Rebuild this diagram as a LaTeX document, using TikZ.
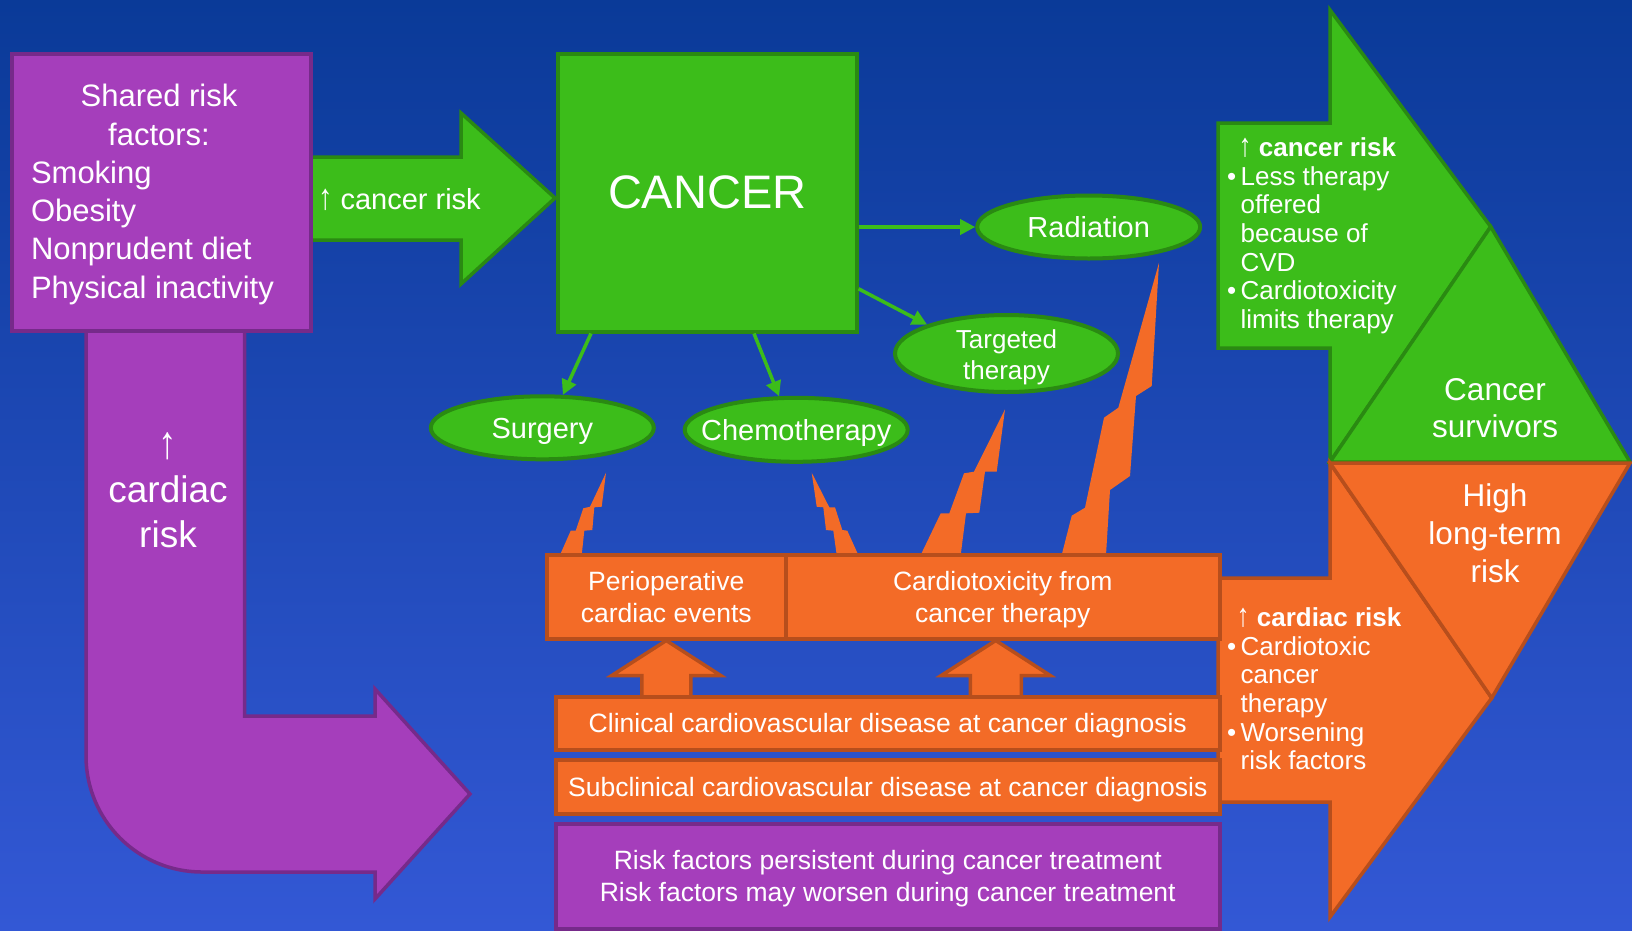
\documentclass[tikz,border=0pt]{standalone}
\usepackage{fontspec}
\usepackage{graphicx}
\setmainfont{Liberation Sans}
\usetikzlibrary{arrows.meta,shapes.geometric,calc}
\definecolor{bgtop}{RGB}{10,58,152}
\definecolor{bgmid}{RGB}{28,77,194}
\definecolor{bgbot}{RGB}{51,88,213}
\definecolor{purp}{RGB}{165,62,187}
\definecolor{purpd}{RGB}{118,42,138}
\definecolor{grn}{RGB}{60,189,26}
\definecolor{grnd}{RGB}{42,138,18}
\definecolor{org}{RGB}{243,107,39}
\definecolor{orgd}{RGB}{183,78,28}
\newcommand\myup{\scalebox{1}[1.25]{↑}}
\begin{document}
\begin{tikzpicture}[x=1pt,y=-1pt,
  purpshape/.style={fill=purp,draw=purpd,line width=3.5pt,line join=miter},
  grnshape/.style={fill=grn,draw=grnd,line width=3.5pt,line join=miter},
  orgshape/.style={fill=org,draw=orgd,line width=3.5pt,line join=miter},
  boltshape/.style={fill=org},
  txt/.style={text=white,inner sep=0pt,outer sep=0pt},
  oval/.style={ellipse,fill=grn,draw=grnd,line width=4pt,inner sep=0pt,text=white,
    minimum width=223pt,minimum height=63pt,font=\fontsize{29}{34}\selectfont,
    text height=21pt,text depth=0pt},
  gline/.style={draw=grn,line width=3.5pt,-{Triangle[length=15pt,width=15pt]}},
  fA/.style={font=\fontsize{31}{38.3}\selectfont},
  fB/.style={font=\fontsize{26}{28.6}\selectfont},
  fC/.style={font=\fontsize{26.5}{32.4}\selectfont},
  fD/.style={font=\fontsize{31.5}{37.8}\selectfont},
  obox/.style={orgshape,inner sep=0pt,anchor=north west,text=white,font=\fontsize{26.5}{32.4}\selectfont,text height=19pt}
]
\useasboundingbox (0,0) rectangle (1632,930);
\shade[top color=bgtop,middle color=bgmid,bottom color=bgbot] (0,0) rectangle (1632,930);

% purple L arrow
\draw[purpshape] (86,320) -- (86,756) .. controls (86,820) and (138,872) .. (202,872)
  -- (375,872) -- (375,899) -- (470,794) -- (375,689) -- (375,716) -- (244.6,716)
  -- (244.6,320) -- cycle;
\node[txt,font=\fontsize{37}{44.6}\selectfont,anchor=base] (cardiacrisk) at (168,458.2)
  {\begin{tabular}[t]{@{}c@{}}\myup\\cardiac\\risk\end{tabular}};

% green arrow: cancer risk
\draw[grnshape] (300,157) -- (461,157) -- (461,113) -- (555,198) -- (461,284) -- (461,240) -- (300,240) -- cycle;
\node[txt,font=\fontsize{29}{35}\selectfont,anchor=base west] (cancerrisk) at (318,209) {\myup\ cancer risk};

% shared risk factors box
\node[purpshape,minimum width=298.6pt,minimum height=277pt,inner sep=0pt,anchor=north west] (shared) at (10.4,52) {};
\node[txt,fA,anchor=base] (sharedT) at (159,106.7) {\begin{tabular}[t]{@{}c@{}}Shared risk\\factors:\end{tabular}};
\node[txt,fA,anchor=base west] (sharedL) at (31,183.3)
  {\begin{tabular}[t]{@{}l@{}}Smoking\\Obesity\\Nonprudent diet\\Physical inactivity\end{tabular}};

% cancer box
\node[grnshape,minimum width=299pt,minimum height=278pt,inner sep=0pt,anchor=north west,
  text=white,font=\fontsize{47}{56}\selectfont] (cancer) at (556,52) {CANCER};

% treatment ovals
\node[oval] (radiation) at (1088.7,227) {Radiation};
\node[oval,minimum height=77pt,font=\fontsize{26}{31.6}\selectfont,text depth=31.6pt] (targeted) at (1006.5,353.5)
  {\begin{tabular}[t]{@{}c@{}}Targeted\\therapy\end{tabular}};
\node[oval] (surgery) at (542.3,427.8) {Surgery};
\node[oval,minimum height=64pt] (chemo) at (796.2,429.8) {};
\node[txt,font=\fontsize{29}{34}\selectfont,text height=21pt,text depth=0pt] (chemoT) at (chemo.center) {Chemotherapy};

\draw[gline] (cancer.east |- radiation.west) -- (radiation.west);
\draw[gline] ($(cancer.east)+(0,96)$) -- (targeted.160);
\draw[gline] ($(cancer.south west)+(35,0)$) -- (surgery.58);
\draw[gline] ($(cancer.south west)+(198,0)$) -- (chemo.117);

% lightning bolts
\fill[boltshape] (560,555) -- (570.7,530.7) -- (575.7,530.7) -- (583.3,508.3) -- (590,506.7) -- (606,472.7)
  -- (601.7,506.7) -- (594.3,507.3) -- (592.3,530) -- (584.3,530.7) -- (581.7,555) -- cycle;
\fill[boltshape] (811.7,472.7) -- (829.3,507.3) -- (835,507.3) -- (842.3,530) -- (847.3,530.7) -- (858.3,555)
  -- (836.7,555) -- (833.3,530.7) -- (826,530) -- (823.3,507.3) -- (816.7,506.7) -- cycle;
\fill[boltshape] (1005,409.3) -- (996.7,471.7) -- (985,471.7) -- (979.3,512.7) -- (966,513.3) -- (960.7,555)
  -- (920.7,555) -- (940.7,513.3) -- (949.3,513.3) -- (964,473.3) -- (974,471.7) -- cycle;
\fill[boltshape] (1159,262.7) -- (1151.7,386) -- (1136,396) -- (1130,476) -- (1110,490) -- (1106,555)
  -- (1061.7,555) -- (1071.7,515.7) -- (1085,507.7) -- (1104,417.7) -- (1118.3,407.7) -- cycle;

% big green arrow and cancer survivors
\draw[grnshape] (1218,123) -- (1330,123) -- (1330,10) -- (1490.7,226.7) -- (1330,462) -- (1330,348) -- (1218,348) -- cycle;
\draw[grnshape] (1330,462) -- (1490.7,226.7) -- (1630,462) -- cycle;
\node[txt,fB,anchor=base west] (greenlist) at (1227,156.7)
  {\begin{tabular}[t]{@{}l@{\hspace{4.5pt}}l@{}}
   & \hspace{-2pt}\bfseries \myup\ cancer risk\\
   • & Less therapy\\
   & offered\\
   & because of\\
   & CVD\\
   • & Cardiotoxicity\\
   & limits therapy
  \end{tabular}};
\node[txt,fD,anchor=base] (survivors) at (1495,400) {\begin{tabular}[t]{@{}c@{}}Cancer\\survivors\end{tabular}};

% big orange arrow and high long-term risk
\draw[orgshape] (1218,578) -- (1330,578) -- (1330,463) -- (1491.7,698) -- (1330,917) -- (1330,802) -- (1218,802) -- cycle;
\draw[orgshape] (1330,463) -- (1630,463) -- (1491.7,698) -- cycle;
\node[txt,fB,anchor=base west] (orangelist) at (1227,626.7)
  {\begin{tabular}[t]{@{}l@{\hspace{4.5pt}}l@{}}
   & \hspace{-4pt}\bfseries \myup\ cardiac risk\\
   • & Cardiotoxic\\
   & cancer\\
   & therapy\\
   • & Worsening\\
   & risk factors
  \end{tabular}};
\node[txt,fD,anchor=base] (highrisk) at (1495,506.7) {\begin{tabular}[t]{@{}c@{}}High\\long-term\\risk\end{tabular}};

% orange event boxes
\node[obox,minimum width=239pt,minimum height=84pt,text depth=32.4pt] (peri) at (545,553)
  {\begin{tabular}[t]{@{}c@{}}Perioperative\\cardiac events\end{tabular}};
\node[obox,minimum width=434pt,minimum height=84pt,text depth=32.4pt] (cardio) at (784,553)
  {\begin{tabular}[t]{@{}c@{}}Cardiotoxicity from\\cancer therapy\end{tabular}};

% up arrows
\draw[orgshape] (peri.south) -- ++(54.5,35) -- ++(-30,0) -- ++(0,26) -- ++(-49,0) -- ++(0,-26) -- ++(-30,0) -- cycle;
\draw[orgshape] ($(cardio.south)+(-7,0)$) -- ++(54.5,35) -- ++(-29,0) -- ++(0,26) -- ++(-51,0) -- ++(0,-26) -- ++(-29,0) -- cycle;

\node[obox,minimum width=664pt,minimum height=53pt,text depth=0pt] (clinical) at (554,695)
  {Clinical cardiovascular disease at cancer diagnosis};
\node[obox,minimum width=664pt,minimum height=54pt,text depth=0pt] (subclinical) at (554,758)
  {Subclinical cardiovascular disease at cancer diagnosis};
\node[purpshape,inner sep=0pt,anchor=north west,text=white,fC,text height=19pt,text depth=32.4pt,
  minimum width=664pt,minimum height=105pt] (persist) at (554,822)
  {\begin{tabular}[t]{@{}c@{}}Risk factors persistent during cancer treatment\\Risk factors may worsen during cancer treatment\end{tabular}};
\end{tikzpicture}
\end{document}
